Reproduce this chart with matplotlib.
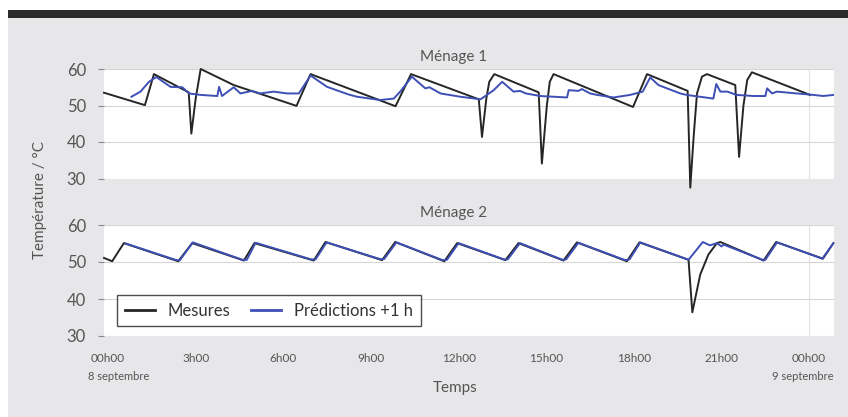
import matplotlib
matplotlib.use("Agg")
import matplotlib.pyplot as plt
from matplotlib.patches import Rectangle

plt.rcParams['font.family'] = ['Lato', 'DejaVu Sans']

# Ménage 1 - mesures (heure, °C)
m1_mes_h = [-0.14, 1.26, 1.57, 2.76, 2.85, 3.0, 3.17, 4.3, 6.45, 6.93, 9.84, 10.37,
            12.69, 12.8, 12.95, 13.05, 13.22, 14.74, 14.85, 15.02, 15.12, 15.25,
            17.97, 18.45, 19.84, 19.93, 20.05, 20.16, 20.33, 20.5, 21.47, 21.6,
            21.75, 21.88, 22.04, 24.03]
m1_mes_t = [53.5, 50.1, 58.6, 53.6, 42.3, 52.0, 60.0, 55.6, 49.9, 58.6, 49.8, 58.6,
            51.7, 41.4, 52.0, 56.5, 58.6, 53.6, 34.1, 50.0, 56.5, 58.6,
            49.6, 58.6, 54.0, 27.5, 42.0, 53.3, 57.9, 58.6, 55.6, 35.9,
            50.0, 57.0, 59.1, 52.9]

# Ménage 1 - prédictions +1 h
m1_pred_h = [0.8, 1.11, 1.4, 1.65, 2.14, 2.54, 2.77, 3.17, 3.74, 3.8, 3.9, 4.3, 4.53,
             4.93, 5.2, 5.67, 6.13, 6.53, 6.93, 7.5, 8.24, 8.52, 9.32, 9.78, 10.0,
             10.4, 10.86, 11.0, 11.38, 12.06, 12.75, 13.2, 13.49, 13.88, 14.1, 14.3,
             14.8, 15.71, 15.77, 16.1, 16.22, 16.5, 16.74, 17.3, 17.87, 18.3, 18.56,
             18.84, 19.13, 19.59, 19.8, 20.72, 20.82, 20.96, 21.2, 21.52, 22.1, 22.5,
             22.56, 22.73, 22.9, 23.58, 24.15, 24.48, 24.83]
m1_pred_t = [52.4, 53.8, 56.5, 57.8, 55.1, 55.0, 53.3, 52.9, 52.6, 55.1, 52.6, 55.0, 53.3,
             54.0, 53.3, 53.8, 53.3, 53.3, 58.2, 55.1, 53.0, 52.4, 51.5, 51.9, 53.8,
             57.9, 54.7, 55.0, 53.3, 52.4, 51.7, 54.2, 56.5, 53.8, 54.0, 53.3,
             52.6, 52.2, 54.2, 54.0, 54.5, 53.3, 52.9, 52.2, 52.9, 53.8, 57.7,
             55.6, 54.7, 53.3, 52.9, 51.9, 55.9, 53.8, 53.8, 52.9, 52.6, 52.6,
             54.7, 53.3, 53.8, 53.3, 52.9, 52.6, 52.9]

# Ménage 2 - mesures
m2_mes_h = [-0.14, 0.14, 0.54, 2.4, 2.88, 4.65, 5.01, 7.04, 7.44, 9.38, 9.83, 11.51,
            11.95, 13.6, 14.05, 15.59, 16.05, 17.76, 18.19, 19.87, 20.0, 20.27, 20.55,
            20.84, 20.96, 22.44, 22.87, 24.47, 24.83]
m2_mes_t = [51.1, 50.2, 55.1, 50.2, 55.1, 50.4, 55.1, 50.4, 55.4, 50.5, 55.4, 50.2,
            55.1, 50.5, 55.1, 50.4, 55.3, 50.2, 55.3, 50.6, 36.4, 46.6, 52.0,
            55.1, 55.4, 50.4, 55.4, 50.9, 55.1]

# Ménage 2 - prédictions +1 h
m2_pred_h = [0.6, 2.3, 2.45, 2.9, 4.6, 4.75, 5.05, 6.95, 7.1, 7.48, 9.3, 9.45, 9.87,
             11.45, 11.6, 12.0, 13.55, 13.68, 14.1, 15.55, 15.68, 16.1, 17.7, 17.85,
             18.22, 19.87, 20.36, 20.6, 20.84, 21.0, 21.07, 22.4, 22.5, 22.9, 24.45,
             24.83]
m2_pred_t = [55.0, 50.6, 50.4, 55.3, 50.6, 50.6, 55.2, 50.7, 50.7, 55.3, 50.8, 50.8, 55.3,
             50.5, 50.6, 55.1, 50.7, 50.7, 55.1, 50.6, 50.7, 55.2, 50.5, 50.7,
             55.3, 50.6, 55.4, 54.5, 55.1, 54.2, 54.7, 50.6, 50.6, 55.3, 50.9,
             55.1]

tick_pos = [0, 3, 6, 9, 12, 15, 18, 21, 24]
tick_lab = ["00h00", "3h00", "6h00", "9h00", "12h00", "15h00", "18h00", "21h00", "00h00"]

black = '#262626'
blue = '#3e4fb5'
grey_txt = '#555555'

fig = plt.figure(figsize=(8.48, 4.17), dpi=100, facecolor='white')
# fond gris + bandeau sombre
fig.patches.append(Rectangle((8 / 848, 0), 1, 1 - 18 / 417, transform=fig.transFigure,
                             facecolor='#e7e7e9', edgecolor='none', zorder=-10))
fig.patches.append(Rectangle((8 / 848, 1 - 18 / 417), 1, 8 / 417, transform=fig.transFigure,
                             facecolor='#2b2b2b', edgecolor='none', zorder=-10))

ax1 = fig.add_axes([104 / 848, 1 - 178.5 / 417, 730 / 848, 109.5 / 417])
ax2 = fig.add_axes([104 / 848, 1 - 336 / 417, 730 / 848, 111 / 417])

series = [(ax1, m1_mes_h, m1_mes_t, m1_pred_h, m1_pred_t),
          (ax2, m2_mes_h, m2_mes_t, m2_pred_h, m2_pred_t)]
for ax, mh, mt, ph, pt in series:
    ax.set_facecolor('white')
    ax.plot(mh, mt, color=black, lw=1.4, label='Mesures', clip_on=False, zorder=3)
    ax.plot(ph, pt, color=blue, lw=1.4, label='Prédictions +1 h', zorder=4)
    ax.set_xlim(-0.14, 24.85)
    ax.set_ylim(30, 60)
    ax.set_yticks([30, 40, 50, 60])
    ax.grid(axis='y', color='#d6d6d6', lw=0.8)
    ax.axvline(24, color='#e2e2e2', lw=0.8, zorder=0)
    for s in ax.spines.values():
        s.set_visible(False)
    ax.tick_params(axis='y', length=4, color='#8a8a8a', pad=9, labelsize=12,
                   labelcolor=grey_txt)

ax1.set_xticks([])
ax2.set_xticks(tick_pos)
ax2.set_xticklabels(tick_lab)
ax2.tick_params(axis='x', length=0, pad=12, labelsize=8.5, labelcolor=grey_txt)

leg = ax2.legend(loc='lower left', bbox_to_anchor=(0.018, 0.09), ncol=2, frameon=True,
                 fancybox=False, fontsize=12, handlelength=1.8, columnspacing=1.2,
                 borderpad=0.45, borderaxespad=0)
leg.get_frame().set_edgecolor('#222222')
leg.get_frame().set_linewidth(1.0)
for t in leg.get_texts():
    t.set_color('#333333')
for h in leg.get_lines():
    h.set_linewidth(2)

fig.text(454 / 848, 1 - 57 / 417, 'Ménage 1', ha='center', va='center', fontsize=11,
         color=grey_txt)
fig.text(454 / 848, 1 - 213 / 417, 'Ménage 2', ha='center', va='center', fontsize=11,
         color=grey_txt)
fig.text(40 / 848, 1 - 200 / 417, 'Température / °C', rotation=90, ha='center',
         va='center', fontsize=11, color=grey_txt)
fig.text(455 / 848, 1 - 388 / 417, 'Temps', ha='center', va='center', fontsize=11,
         color=grey_txt)
fig.text(88 / 848, 1 - 377 / 417, '8 septembre', ha='left', va='center', fontsize=8,
         color=grey_txt)
fig.text(833 / 848, 1 - 376 / 417, '9 septembre', ha='right', va='center', fontsize=8,
         color=grey_txt)

fig.savefig('out.png', dpi=100, facecolor=fig.get_facecolor())
